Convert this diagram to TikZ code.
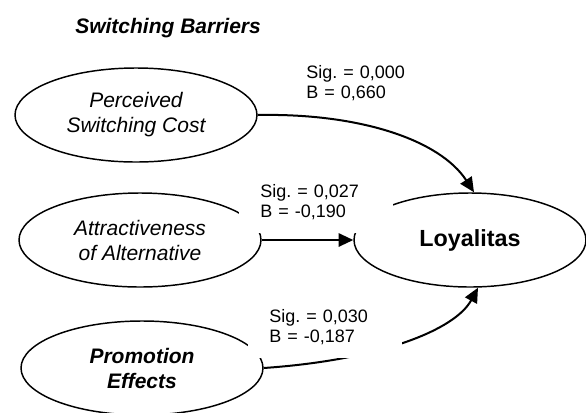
\documentclass[tikz,border=0pt]{standalone}
\usepackage{fontspec}
\setmainfont{Liberation Sans}
\usepackage{tikz}
\usetikzlibrary{shapes.geometric}
\usetikzlibrary{arrows.meta}
\frenchspacing

\begin{document}
\begin{tikzpicture}[x=0.75pt,y=-0.75pt,
            var/.style={draw,ellipse,line width=1.1pt,minimum width=181.5pt,minimum height=70.5pt,align=center,font=\fontsize{15.75}{18.75}\selectfont\itshape},
            sigbox/.style={fill=white,text width=84pt,align=left,inner xsep=15.75pt,inner ysep=10pt,font=\fontsize{13.5}{15}\selectfont},
            link/.style={line width=1.5pt,-{Triangle[length=11pt,width=10pt]}}]
            \useasboundingbox (0,0) rectangle (586,412);
            \fill [white] (0,0) rectangle (586,412);
            \clip (0,0) rectangle (586,412);
            \node [anchor=base west,inner sep=0pt,font=\fontsize{15.75}{18.75}\selectfont\bfseries\itshape] (title) at (75,33) {Switching Barriers};
            \node [var] (psc) at (136,115) {Perceived\\Switching Cost};
            \node [var] (aoa) at (140,240) {Attractiveness\\of Alternative};
            \node [var,font=\fontsize{15.75}{18.75}\selectfont\bfseries\itshape] (pe) at (142,368) {Promotion\\Effects};
            \node [draw,ellipse,line width=1.1pt,minimum width=174pt,minimum height=70.5pt,font=\fontsize{17.5}{21}\selectfont\bfseries] (loy) at (470,240) {Loyalitas};
            \node [sigbox,anchor=south west] (sigpsc) at (285,114) {Sig. = 0,000\\B = 0,660};
            \draw [link] (psc.east) .. controls (360,113) and (440,140) .. ([xshift=3pt]loy.north);
            \draw [link] (aoa.east) -- (loy.west);
            \draw [link] (pe.east) .. controls (380,360) and (455,330) .. ([xshift=6pt]loy.south);
            \node [sigbox,anchor=south west] (sigaoa) at (239,233) {Sig. = 0,027\\B = -0,190};
            \node [sigbox,anchor=south west] (sigpe) at (248,358) {Sig. = 0,030\\B = -0,187};
        \end{tikzpicture}
\end{document}
